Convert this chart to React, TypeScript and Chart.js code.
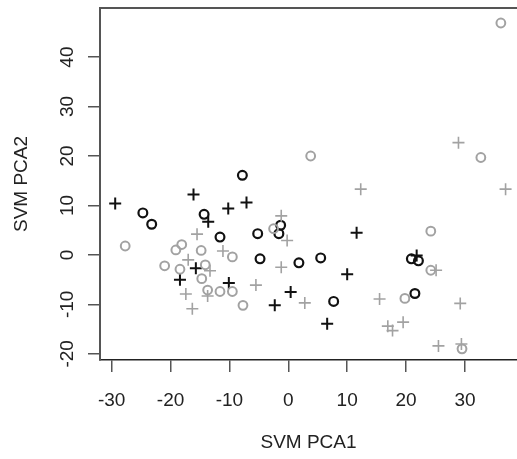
import React, { useEffect, useRef } from "react";
import { Chart, registerables } from "chart.js";

Chart.register(...registerables);

const xTickValues = [-30, -20, -10, 0, 10, 20, 30];
const yTickValues = [-20, -10, 0, 10, 20, 30, 40];

const blackCircleX = [-24.7, -23.2, -14.3, -11.6, -7.8, -5.2, -4.8, -1.3, -1.6, 1.8, 5.5, 7.7, 20.9, 22.1, 21.5];
const blackCircleY = [8.5, 6.2, 8.2, 3.6, 16.1, 4.3, -0.8, 6.0, 4.3, -1.6, -0.6, -9.4, -0.8, -1.2, -7.8];

const blackPlusX = [-29.4, -16.1, -13.6, -10.2, -7.1, -18.4, -15.7, -10.1, -2.3, 0.4, 6.6, 10.0, 11.6, 21.8];
const blackPlusY = [10.4, 12.2, 6.7, 9.4, 10.6, -5.0, -2.7, -5.7, -10.2, -7.5, -13.9, -3.9, 4.5, -0.1];

const grayCircleX = [-27.7, -18.1, -19.1, -14.8, -9.5, -21.0, -18.4, -14.1, -14.7, -13.7, -11.6, -9.5, -7.7, -2.5, 3.8, 19.8, 24.2, 24.2, 29.5, 32.7, 36.1];
const grayCircleY = [1.8, 2.1, 1.0, 0.9, -0.4, -2.2, -2.9, -2.0, -4.8, -7.1, -7.4, -7.4, -10.2, 5.3, 20.0, -8.8, 4.8, -3.1, -19.0, 19.7, 46.9];

const grayPlusX = [-15.5, -17.0, -11.1, -13.3, -17.4, -13.7, -16.3, -5.5, -1.2, -0.2, -1.2, 2.8, 12.3, 15.5, 16.9, 17.7, 19.5, 25.1, 25.5, 28.9, 29.2, 29.4, 36.9];
const grayPlusY = [4.2, -1.0, 0.8, -3.2, -7.9, -8.3, -10.9, -6.1, 7.9, 2.9, -2.5, -9.7, 13.3, -8.9, -14.4, -15.3, -13.6, -3.1, -18.4, 22.7, -9.8, -18.0, 13.3];

const xTitle = "SVM PCA1";
const yTitle = "SVM PCA2";

const toPoints = (xs: number[], ys: number[]) => xs.map((x, i) => ({ x, y: ys[i] }));

const FONT_FAMILY = '"Liberation Sans", Arial, Helvetica, sans-serif';
const BLACK = "#111111";
const GRAY = "#a2a2a2";

const topBorderPlugin = {
  id: "topBorder",
  afterDraw(chart: any) {
    const { ctx, chartArea } = chart;
    ctx.save();
    ctx.strokeStyle = "#555555";
    ctx.lineWidth = 2;
    ctx.beginPath();
    ctx.moveTo(chartArea.left, chartArea.top);
    ctx.lineTo(chartArea.right, chartArea.top);
    ctx.stroke();
    ctx.restore();
  },
};

export default function App() {
  const canvasRef = useRef<HTMLCanvasElement | null>(null);

  useEffect(() => {
    if (!canvasRef.current) return;
    const chart = new Chart(canvasRef.current, {
      type: "scatter",
      data: {
        datasets: [
          {
            label: "gray o",
            data: toPoints(grayCircleX, grayCircleY),
            pointStyle: "circle",
            pointRadius: 4.4,
            borderColor: GRAY,
            backgroundColor: "rgba(0,0,0,0)",
            borderWidth: 2,
          },
          {
            label: "gray +",
            data: toPoints(grayPlusX, grayPlusY),
            pointStyle: "cross",
            pointRadius: 6,
            borderColor: GRAY,
            backgroundColor: GRAY,
            borderWidth: 1.6,
          },
          {
            label: "black o",
            data: toPoints(blackCircleX, blackCircleY),
            pointStyle: "circle",
            pointRadius: 4.4,
            borderColor: BLACK,
            backgroundColor: "rgba(0,0,0,0)",
            borderWidth: 2.2,
          },
          {
            label: "black +",
            data: toPoints(blackPlusX, blackPlusY),
            pointStyle: "cross",
            pointRadius: 6,
            borderColor: BLACK,
            backgroundColor: BLACK,
            borderWidth: 2,
          },
        ],
      },
      options: {
        animation: false,
        responsive: false,
        maintainAspectRatio: false,
        layout: { autoPadding: false, padding: { top: 8, left: 0, right: 0, bottom: 0 } },
        plugins: {
          legend: { display: false },
          tooltip: { enabled: false },
        },
        scales: {
          x: {
            type: "linear",
            min: -31.98,
            max: 38.84,
            afterBuildTicks: (scale: any) => {
              scale.ticks = xTickValues.map((v) => ({ value: v }));
            },
            afterFit: (scale: any) => {
              scale.height = 99;
              scale.paddingLeft = 0;
              scale.paddingRight = 0;
            },
            grid: {
              display: true,
              drawOnChartArea: false,
              drawTicks: true,
              tickLength: 12,
              color: "#555555",
              lineWidth: 1.5,
            },
            border: { display: true, color: "#222222", width: 1.5 },
            ticks: {
              autoSkip: false,
              maxRotation: 0,
              minRotation: 0,
              padding: 17,
              color: "#222222",
              font: { family: FONT_FAMILY, size: 19 },
              callback: (v: any) => String(v),
            },
            title: {
              display: true,
              text: xTitle,
              color: "#222222",
              font: { family: FONT_FAMILY, size: 19 },
              padding: { top: 0, bottom: 5 },
            },
          },
          y: {
            type: "linear",
            min: -21.25,
            max: 49.93,
            afterBuildTicks: (scale: any) => {
              scale.ticks = yTickValues.map((v) => ({ value: v }));
            },
            afterFit: (scale: any) => {
              scale.width = 100;
              scale.paddingTop = 0;
              scale.paddingBottom = 0;
            },
            grid: {
              display: true,
              drawOnChartArea: false,
              drawTicks: true,
              tickLength: 12,
              color: "#555555",
              lineWidth: 1.5,
            },
            border: { display: true, color: "#555555", width: 2 },
            ticks: {
              autoSkip: false,
              minRotation: 90,
              maxRotation: 90,
              crossAlign: "center",
              padding: 7,
              color: "#222222",
              font: { family: FONT_FAMILY, size: 19 },
              callback: (v: any) => String(v),
            },
            title: {
              display: true,
              text: yTitle,
              color: "#222222",
              font: { family: FONT_FAMILY, size: 19 },
              padding: { top: 10, bottom: 0 },
            },
          },
        },
      },
      plugins: [topBorderPlugin],
    } as any);
    return () => chart.destroy();
  }, []);

  return (
    <div style={{ position: "absolute", left: 0, top: 0, width: 517, height: 459, background: "#ffffff" }}>
      <canvas ref={canvasRef} width={517} height={459} style={{ width: 517, height: 459, display: "block" }} />
    </div>
  );
}
